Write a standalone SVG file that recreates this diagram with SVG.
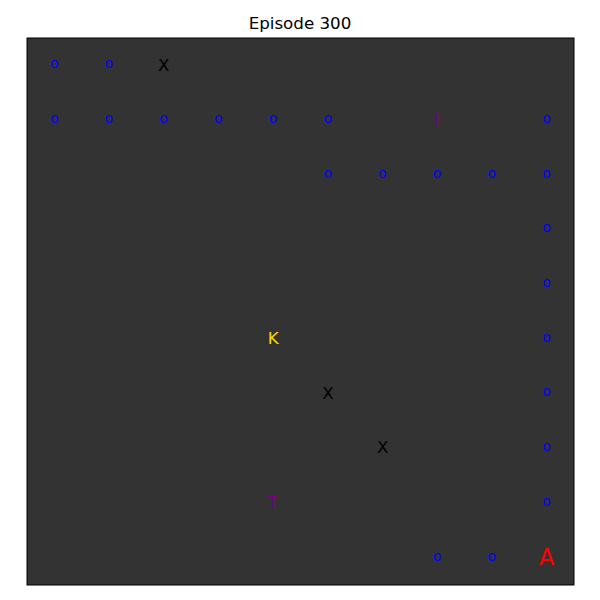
<svg xmlns="http://www.w3.org/2000/svg" width="600" height="600" viewBox="0 0 600 600">
<style>
text{font-family:"DejaVu Sans",sans-serif;text-anchor:middle}
.o{fill:#0000ff;font-size:13.9px}
.x{fill:#000000;font-size:16.7px}
.t{fill:#800080;font-size:16.7px}
.k{fill:#ffd700;font-size:16.7px}
.a{fill:#ff0000;font-size:22.2px}
</style>
<rect x="0" y="0" width="600" height="600" fill="#ffffff"/>
<text x="300" y="29" style="font-size:16.7px;fill:#000">Episode 300</text>
<rect id="board" x="27" y="38" width="547" height="547" fill="#333333" stroke="#000" stroke-width="1"/>
<g id="cells">
<g id="r0">
<text class="o" x="54.4" y="68.2">o</text>
<text class="o" x="109.1" y="68.2">o</text>
<text class="x" x="163.8" y="70.5">X</text>
</g>
<g id="r1">
<text class="o" x="54.4" y="122.9">o</text>
<text class="o" x="109.1" y="122.9">o</text>
<text class="o" x="163.8" y="122.9">o</text>
<text class="o" x="218.5" y="122.9">o</text>
<text class="o" x="273.2" y="122.9">o</text>
<text class="o" x="327.9" y="122.9">o</text>
<text class="t" x="437.3" y="125.2">T</text>
<text class="o" x="546.7" y="122.9">o</text>
</g>
<g id="r2">
<text class="o" x="327.9" y="177.6">o</text>
<text class="o" x="382.6" y="177.6">o</text>
<text class="o" x="437.3" y="177.6">o</text>
<text class="o" x="492" y="177.6">o</text>
<text class="o" x="546.7" y="177.6">o</text>
</g>
<g id="r3"><text class="o" x="546.7" y="232.3">o</text></g>
<g id="r4"><text class="o" x="546.7" y="287">o</text></g>
<g id="r5">
<text class="k" x="273.2" y="344">K</text>
<text class="o" x="546.7" y="341.7">o</text>
</g>
<g id="r6">
<text class="x" x="327.9" y="398.7">X</text>
<text class="o" x="546.7" y="396.4">o</text>
</g>
<g id="r7">
<text class="x" x="382.6" y="453.4">X</text>
<text class="o" x="546.7" y="451.1">o</text>
</g>
<g id="r8">
<text class="t" x="273.2" y="508.1">T</text>
<text class="o" x="546.7" y="505.8">o</text>
</g>
<g id="r9">
<text class="o" x="437.3" y="560.5">o</text>
<text class="o" x="492" y="560.5">o</text>
<text class="a" x="546.7" y="564.8">A</text>
</g>
</g>
</svg>
